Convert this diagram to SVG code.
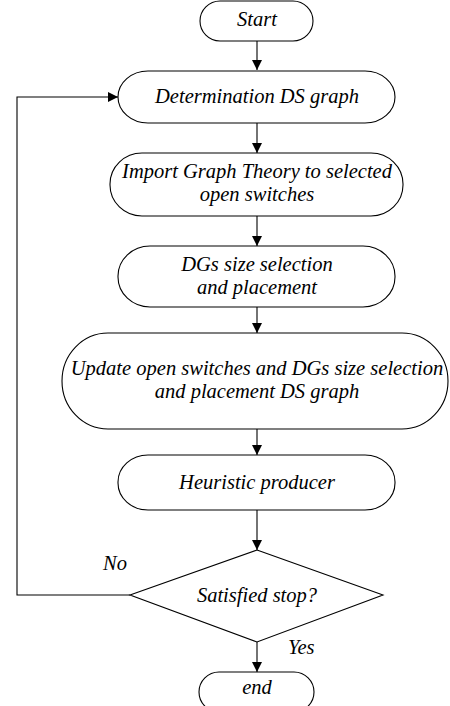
<svg xmlns="http://www.w3.org/2000/svg" width="450" height="706" viewBox="0 0 450 706">
<defs>
<marker id="ah" markerWidth="12" markerHeight="12" refX="10" refY="5" orient="auto" markerUnits="userSpaceOnUse">
<path d="M0,0 L10,5 L0,10 Z" fill="#000"/>
</marker>
<style>
.s{fill:#fff;stroke:#000;stroke-width:1.1}
.t{font-family:"Liberation Serif","Times New Roman",serif;font-style:italic;font-size:20.5px;fill:#000;text-anchor:middle}
.c{fill:none;stroke:#000;stroke-width:1.1;marker-end:url(#ah)}
.l{font-family:"Liberation Serif","Times New Roman",serif;font-style:italic;font-size:20.5px;fill:#000}
</style>
</defs>
<rect width="450" height="706" fill="#fff"/>
<g id="connectors">
<line class="c" x1="257" y1="41" x2="257" y2="70"/>
<line class="c" x1="257" y1="123" x2="257" y2="153"/>
<line class="c" x1="257" y1="216" x2="257" y2="246"/>
<line class="c" x1="257" y1="307" x2="257" y2="333"/>
<line class="c" x1="257" y1="429" x2="257" y2="455"/>
<line class="c" x1="257" y1="510" x2="257" y2="550"/>
<line class="c" x1="257" y1="642" x2="257" y2="672"/>
<polyline class="c" points="130,595 17,595 17,97 118,97"/>
<text class="l" x="103" y="570">No</text>
<text class="l" x="288" y="654">Yes</text>
</g>
<g id="start">
<rect class="s" x="200" y="1" width="113" height="40" rx="20" ry="20"/>
<text class="t" x="257" y="26">Start</text>
</g>
<g id="determination">
<rect class="s" x="118" y="71" width="277" height="52" rx="30" ry="26"/>
<text class="t" x="257" y="103">Determination DS graph</text>
</g>
<g id="import">
<rect class="s" x="110" y="153" width="293" height="63" rx="32" ry="31"/>
<text class="t" x="257" y="178">Import Graph Theory to selected</text>
<text class="t" x="257" y="201">open switches</text>
</g>
<g id="dgs">
<rect class="s" x="118" y="246" width="277" height="61" rx="32" ry="30"/>
<text class="t" x="257" y="271">DGs size selection</text>
<text class="t" x="257" y="294">and placement</text>
</g>
<g id="update">
<rect class="s" x="62" y="333" width="386" height="96" rx="46" ry="48"/>
<text class="t" x="257" y="375">Update open switches and DGs size selection</text>
<text class="t" x="257" y="398">and placement DS graph</text>
</g>
<g id="heuristic">
<rect class="s" x="118" y="455" width="277" height="55" rx="30" ry="27"/>
<text class="t" x="257" y="489">Heuristic producer</text>
</g>
<g id="decision">
<polygon class="s" points="257,550 383,595 257,642 130,595"/>
<text class="t" x="257" y="602">Satisfied stop?</text>
</g>
<g id="end">
<rect class="s" x="199" y="672" width="115" height="40" rx="20" ry="20"/>
<text class="t" x="257" y="694">end</text>
</g>
</svg>
